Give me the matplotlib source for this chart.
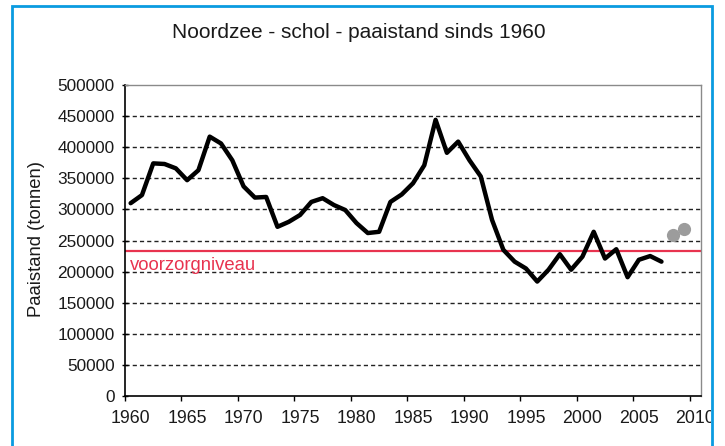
import matplotlib
matplotlib.use("Agg")
import matplotlib.pyplot as plt
from matplotlib.patches import Rectangle
from matplotlib.transforms import Bbox

plt.rcParams['font.family'] = ['Liberation Sans', 'DejaVu Sans']

# ---- data ----
years = list(range(1960, 2008))
ssb = [310000, 323000, 374000, 373000, 366000, 347000, 363000, 417000, 406000, 379000,
       337000, 319000, 320000, 272000, 280000, 291000, 312000, 318000, 307000, 299000,
       278000, 262000, 264000, 312000, 324000, 342000, 371000, 444000, 391000, 409000,
       379000, 353000, 283000, 235000, 216000, 205000, 184000, 203000, 228000, 203000,
       224000, 264000, 221000, 236000, 191000, 219000, 225000, 216000]
est_years = [2008, 2009]
est_ssb = [259000, 268000]
threshold = 233000
threshold_label = "voorzorgniveau"
first_cat, last_cat = 1960, 2010
label_years = list(range(1960, 2011, 5))
y_ticks = list(range(0, 500001, 50000))
title = "Noordzee - schol - paaistand sinds 1960"
ylabel = "Paaistand (tonnen)"

W, H = 725, 446
fig = plt.figure(figsize=(W / 100, H / 100), dpi=100)
fig.patch.set_facecolor("white")

ax = fig.add_axes([125 / W, 1 - 396 / H, 576 / W, 311 / H])
ax.set_xlim(first_cat - 0.5, last_cat + 0.5)
ax.set_ylim(y_ticks[0], y_ticks[-1])

txt = "#1a1a1a"

# gridlines
for v in y_ticks[1:-1]:
    ax.axhline(v, color="#222222", lw=1.0, linestyle=(0, (3, 2.2)), zorder=1)

# threshold line
ax.axhline(threshold, color="#e8334f", lw=1.6, zorder=2)
ax.annotate(threshold_label, xy=(first_cat - 0.5, threshold), xytext=(5, -14),
            textcoords="offset pixels", color="#e8334f", fontsize=13.3,
            va="center", ha="left")

# series
ax.plot(years, ssb, color="black", lw=3.2, solid_joinstyle="round",
        solid_capstyle="round", zorder=3)
ax.plot(est_years, est_ssb, "o", color="#9c9c9c", markersize=9.5,
        markeredgewidth=0, zorder=3)

# spines
for s in ("left", "bottom"):
    ax.spines[s].set_color("black")
    ax.spines[s].set_linewidth(1.2)
for s in ("top", "right"):
    ax.spines[s].set_color("#8a8a8a")
    ax.spines[s].set_linewidth(1.0)

# x ticks: marks between categories, labels at categories
boundaries = [y - 0.5 for y in label_years]
ax.set_xticks(boundaries)
ax.set_xticklabels([])
ax.set_xticks(label_years, minor=True)
ax.set_xticklabels([str(y) for y in label_years], minor=True)
ax.tick_params(axis="x", which="major", direction="out", length=3.6, width=1, color="black")
ax.tick_params(axis="x", which="minor", length=0, pad=10, labelsize=12.8, labelcolor=txt)

ax.set_yticks(y_ticks)
ax.set_yticklabels([str(v) for v in y_ticks])
ax.tick_params(axis="y", direction="inout", length=5, width=1, color="black",
               pad=5, labelsize=12.4, labelcolor=txt)

fig.text(359 / W, 1 - 32 / H, title, fontsize=15, color=txt, ha="center", va="center")
fig.text(37 / W, 1 - 239 / H, ylabel, fontsize=13.3, color=txt, ha="center",
         va="center", rotation=90)

# clip tick labels at the frame
clip = Bbox.from_extents(0, 0, 711, H)
for lab in ax.get_xticklabels(minor=True):
    lab.set_clip_box(clip)
    lab.set_clip_on(True)

# outer blue frame (open at the bottom)
fig.add_artist(Rectangle((12 / W, -0.05), 700 / W, 1.05 - 6 / H, transform=fig.transFigure,
                         fill=False, edgecolor="#0a9be0", lw=2.0))

fig.savefig("out.png", dpi=100)
